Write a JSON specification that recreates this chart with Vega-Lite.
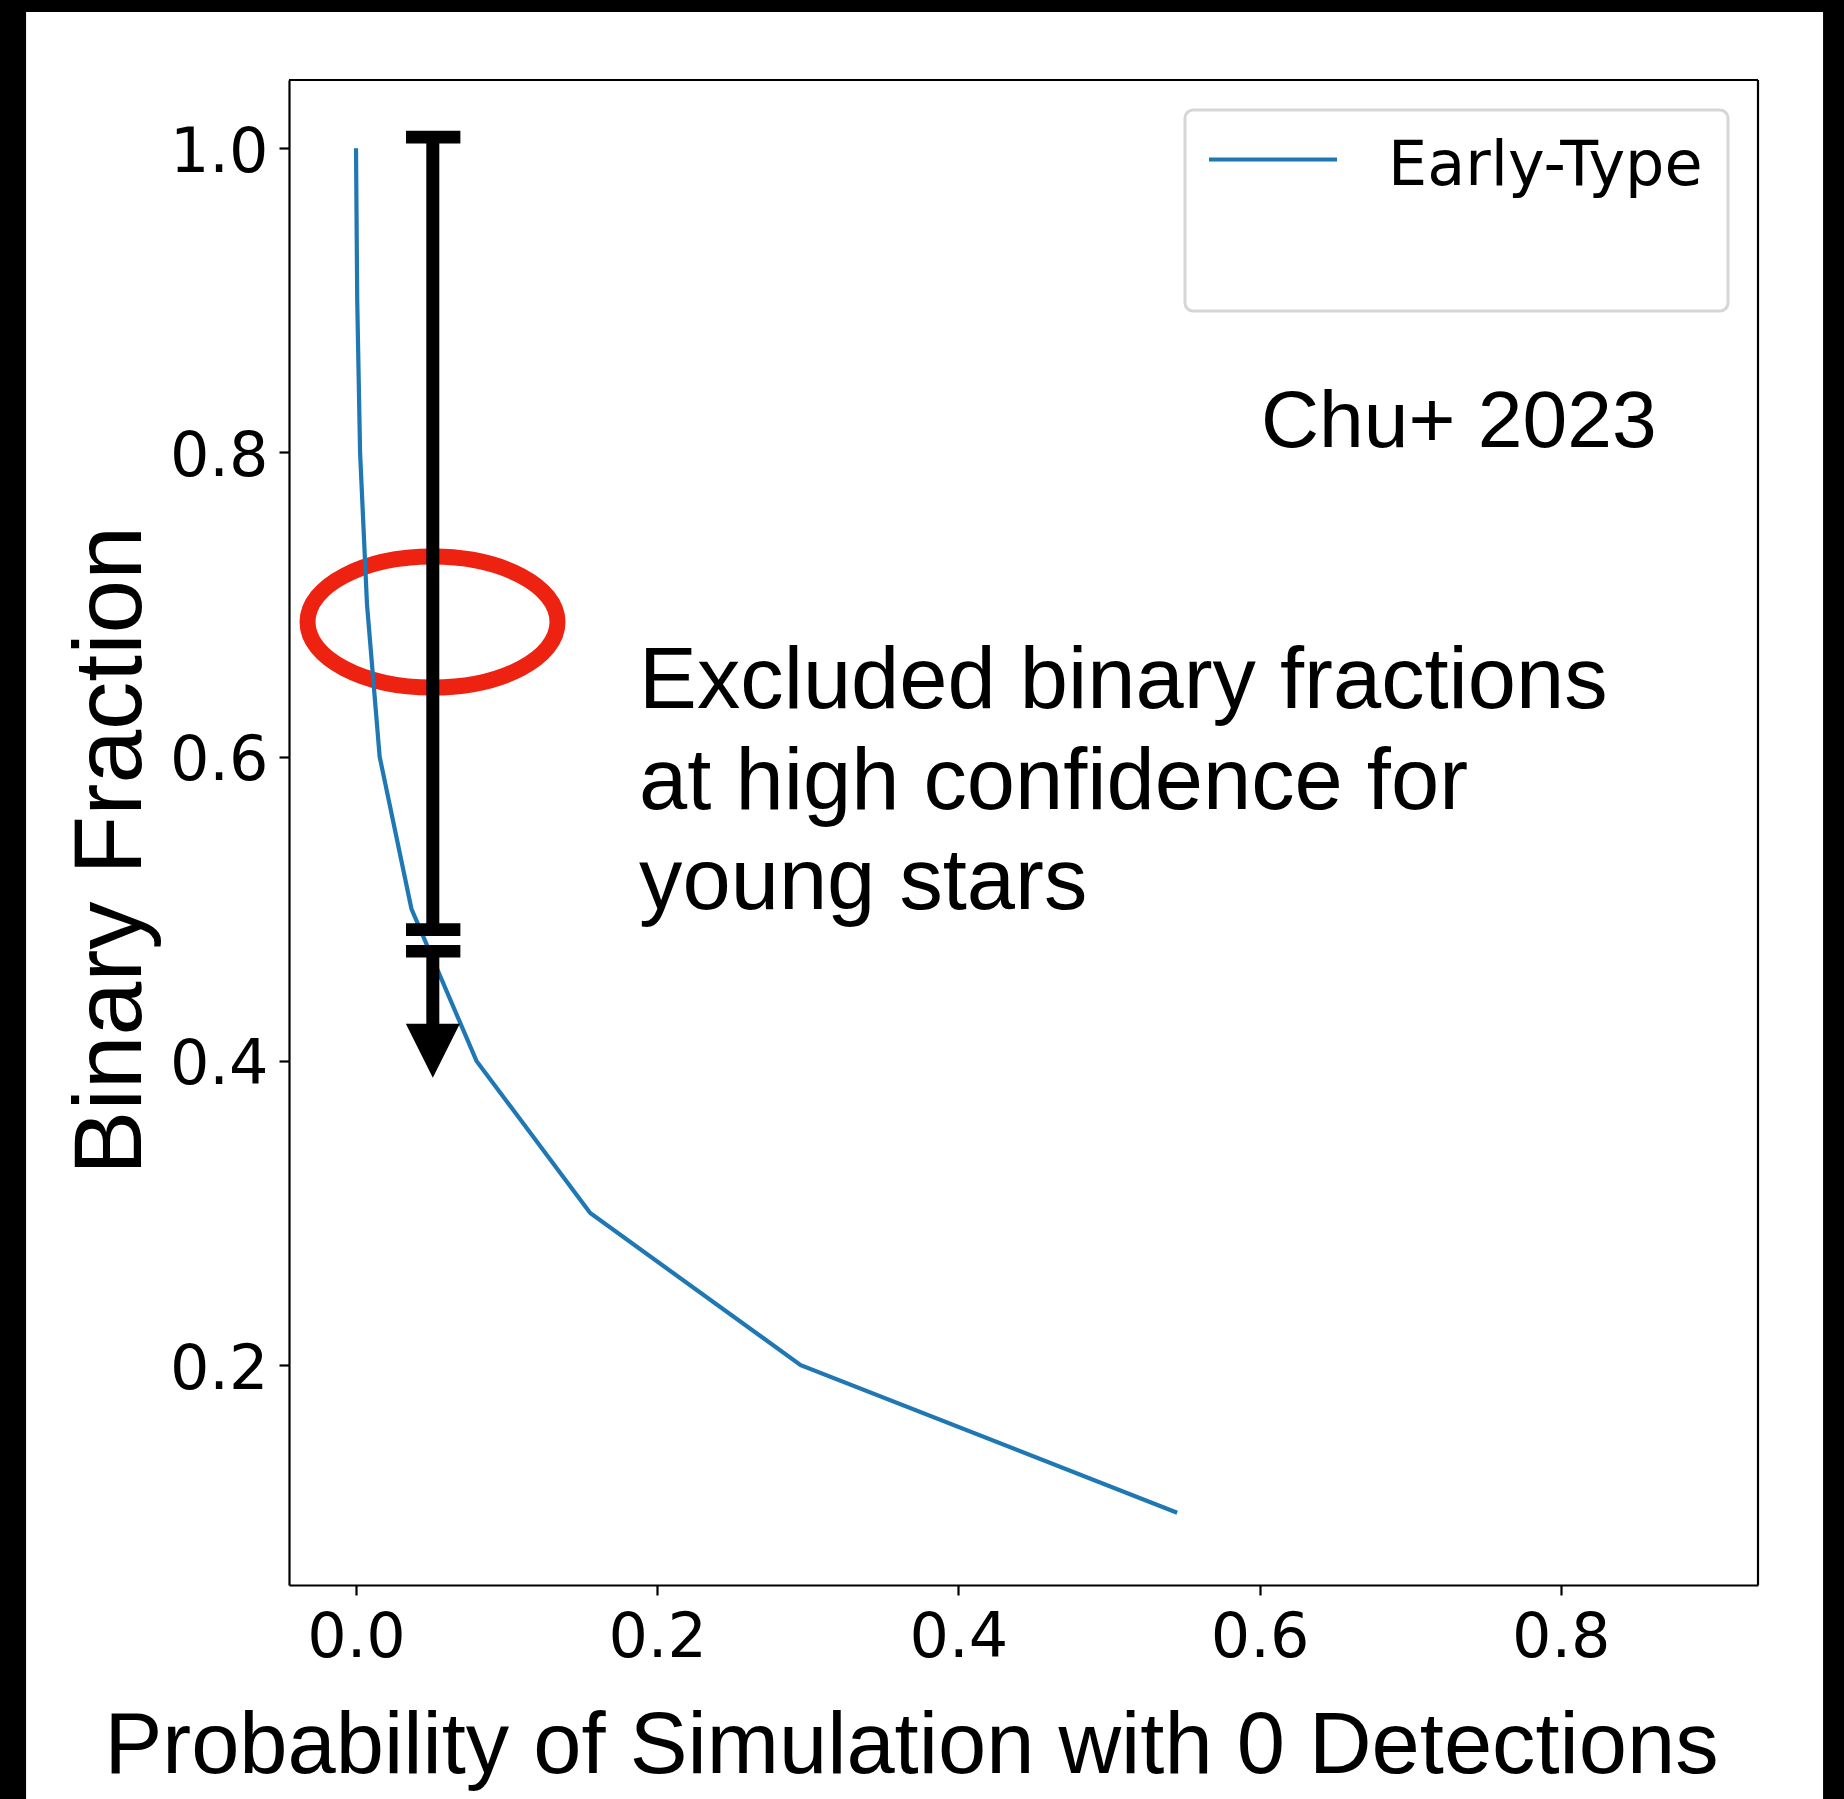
{
  "$schema": "https://vega.github.io/schema/vega-lite/v6.json",
  "width": 1469,
  "height": 1505,
  "autosize": {"type": "none"},
  "padding": {"left": 289, "top": 80, "right": 86, "bottom": 214},
  "background": "black",
  "config": {"view": {"stroke": null}},
  "datasets": {
    "curve": [
      {"p": 0.0, "bf": 1.0, "series": "Early-Type"},
      {"p": 0.0008, "bf": 0.9, "series": "Early-Type"},
      {"p": 0.0027, "bf": 0.8, "series": "Early-Type"},
      {"p": 0.0073, "bf": 0.7, "series": "Early-Type"},
      {"p": 0.0157, "bf": 0.6, "series": "Early-Type"},
      {"p": 0.0368, "bf": 0.5, "series": "Early-Type"},
      {"p": 0.080, "bf": 0.4, "series": "Early-Type"},
      {"p": 0.1555, "bf": 0.3, "series": "Early-Type"},
      {"p": 0.2953, "bf": 0.2, "series": "Early-Type"},
      {"p": 0.5453, "bf": 0.103, "series": "Early-Type"}
    ]
  },
  "layer": [
    {
      "data": {"values": [{}]},
      "mark": {"type": "rect", "color": "white"},
      "encoding": {
        "x": {"datum": -0.2191, "type": "quantitative"},
        "x2": {"datum": 0.9742},
        "y": {"datum": 1.0895, "type": "quantitative"},
        "y2": {"datum": -0.3}
      }
    },
    {
      "data": {"values": [{}]},
      "mark": {"type": "point", "shape": "M -1 0 A 1 0.524 0 1 1 1 0 A 1 0.524 0 1 1 -1 0 Z", "size": 62500, "filled": false, "stroke": "#ee2211", "strokeWidth": 16, "opacity": 1},
      "encoding": {
        "x": {"datum": 0.0508, "type": "quantitative"},
        "y": {"datum": 0.6885, "type": "quantitative"}
      }
    },
    {
      "data": {"name": "curve"},
      "mark": {"type": "line", "strokeWidth": 4.2},
      "encoding": {
        "x": {
          "field": "p", "type": "quantitative",
          "scale": {"domain": [-0.0445, 0.931], "zero": false, "nice": false},
          "axis": {
            "title": "Probability of Simulation with 0 Detections",
            "values": [0, 0.2, 0.4, 0.6, 0.8], "format": ".1f", "grid": false,
            "domainColor": "black", "domainWidth": 2.2, "tickColor": "black", "tickWidth": 2.2, "tickSize": 10,
            "labelFont": "DejaVu Sans", "labelFontSize": 62, "labelColor": "black", "labelPadding": 12,
            "labelFlush": false, "labelOverlap": false,
            "titleFont": "Liberation Sans", "titleFontSize": 86.7, "titleFontWeight": "normal", "titleColor": "black",
            "titleX": 622, "titleY": 187, "titleBaseline": "alphabetic", "titleAlign": "center",
            "zindex": 1
          }
        },
        "y": {
          "field": "bf", "type": "quantitative",
          "scale": {"domain": [0.0555, 1.0448], "zero": false, "nice": false},
          "axis": {
            "title": "Binary Fraction",
            "values": [0.2, 0.4, 0.6, 0.8, 1.0], "format": ".1f", "grid": false,
            "domainColor": "black", "domainWidth": 2.2, "tickColor": "black", "tickWidth": 2.2, "tickSize": 10,
            "labelFont": "DejaVu Sans", "labelFontSize": 62, "labelColor": "black", "labelPadding": 11, "labelOffset": 4,
            "labelFlush": false, "labelOverlap": false,
            "titleFont": "Liberation Sans", "titleFontSize": 96.5, "titleFontWeight": "normal", "titleColor": "black",
            "titleAngle": 270, "titleX": -149, "titleY": 770, "titleBaseline": "alphabetic", "titleAlign": "center",
            "zindex": 1
          }
        },
        "color": {
          "field": "series", "type": "nominal",
          "scale": {"domain": ["Early-Type", " "], "range": ["#1f77b4", "rgba(0,0,0,0)"]},
          "legend": {
            "title": null, "orient": "none", "legendX": 896, "legendY": 30,
            "symbolType": "M -2 -0.406 L 6 -0.406", "symbolSize": 1024, "symbolStrokeWidth": 4.2,
            "labelFont": "DejaVu Sans", "labelFontSize": 62, "labelColor": "black", "labelOffset": 116, "labelLimit": 1000,
            "padding": 25, "rowPadding": 27, "strokeColor": "#d6d6d6", "cornerRadius": 8, "fillColor": "white",
            "zindex": 1,
            "encode": {"legend": {"update": {"strokeWidth": {"value": 3}}}}
          }
        }
      }
    },
    {
      "data": {"values": [{}]},
      "mark": {"type": "rule", "color": "black", "strokeWidth": 13},
      "encoding": {
        "x": {"datum": 0.051, "type": "quantitative"},
        "y": {"datum": 1.0073, "type": "quantitative"},
        "y2": {"datum": 0.4863}
      }
    },
    {
      "data": {"values": [{}]},
      "mark": {"type": "rule", "color": "black", "strokeWidth": 13},
      "encoding": {
        "x": {"datum": 0.051, "type": "quantitative"},
        "y": {"datum": 0.4721, "type": "quantitative"},
        "y2": {"datum": 0.42}
      }
    },
    {
      "data": {"values": [{}]},
      "mark": {"type": "rule", "color": "black", "strokeWidth": 12.7},
      "encoding": {
        "x": {"datum": 0.0332, "type": "quantitative"},
        "x2": {"datum": 0.0693},
        "y": {"datum": 1.0073, "type": "quantitative"}
      }
    },
    {
      "data": {"values": [{}]},
      "mark": {"type": "rule", "color": "black", "strokeWidth": 12.7},
      "encoding": {
        "x": {"datum": 0.0332, "type": "quantitative"},
        "x2": {"datum": 0.0693},
        "y": {"datum": 0.4863, "type": "quantitative"}
      }
    },
    {
      "data": {"values": [{}]},
      "mark": {"type": "rule", "color": "black", "strokeWidth": 12.7},
      "encoding": {
        "x": {"datum": 0.0332, "type": "quantitative"},
        "x2": {"datum": 0.0693},
        "y": {"datum": 0.4721, "type": "quantitative"}
      }
    },
    {
      "data": {"values": [{}]},
      "mark": {"type": "point", "shape": "M -1 -1 L 1 -1 L 0 1 Z", "size": 2916, "filled": true, "color": "black", "strokeWidth": 0, "opacity": 1},
      "encoding": {
        "x": {"datum": 0.051, "type": "quantitative"},
        "y": {"datum": 0.4067, "type": "quantitative"}
      }
    },
    {
      "data": {"values": [{}]},
      "mark": {"type": "text", "text": ["Excluded binary fractions", "at high confidence for", "young stars"], "font": "Liberation Sans", "fontSize": 86.7, "lineHeight": 100.5, "align": "left", "baseline": "alphabetic", "color": "black"},
      "encoding": {
        "x": {"datum": 0.188, "type": "quantitative"},
        "y": {"datum": 0.6318, "type": "quantitative"}
      }
    },
    {
      "data": {"values": [{}]},
      "mark": {"type": "text", "text": "Chu+ 2023", "font": "Liberation Sans", "fontSize": 80.4, "align": "left", "baseline": "alphabetic", "color": "black"},
      "encoding": {
        "x": {"datum": 0.601, "type": "quantitative"},
        "y": {"datum": 0.8034, "type": "quantitative"}
      }
    },
    {
      "data": {"values": [{}]},
      "mark": {"type": "rule", "color": "black", "strokeWidth": 2.2},
      "encoding": {"y": {"datum": 1.0448, "type": "quantitative"}}
    },
    {
      "data": {"values": [{}]},
      "mark": {"type": "rule", "color": "black", "strokeWidth": 2.2},
      "encoding": {"x": {"datum": 0.931, "type": "quantitative"}}
    }
  ]
}
